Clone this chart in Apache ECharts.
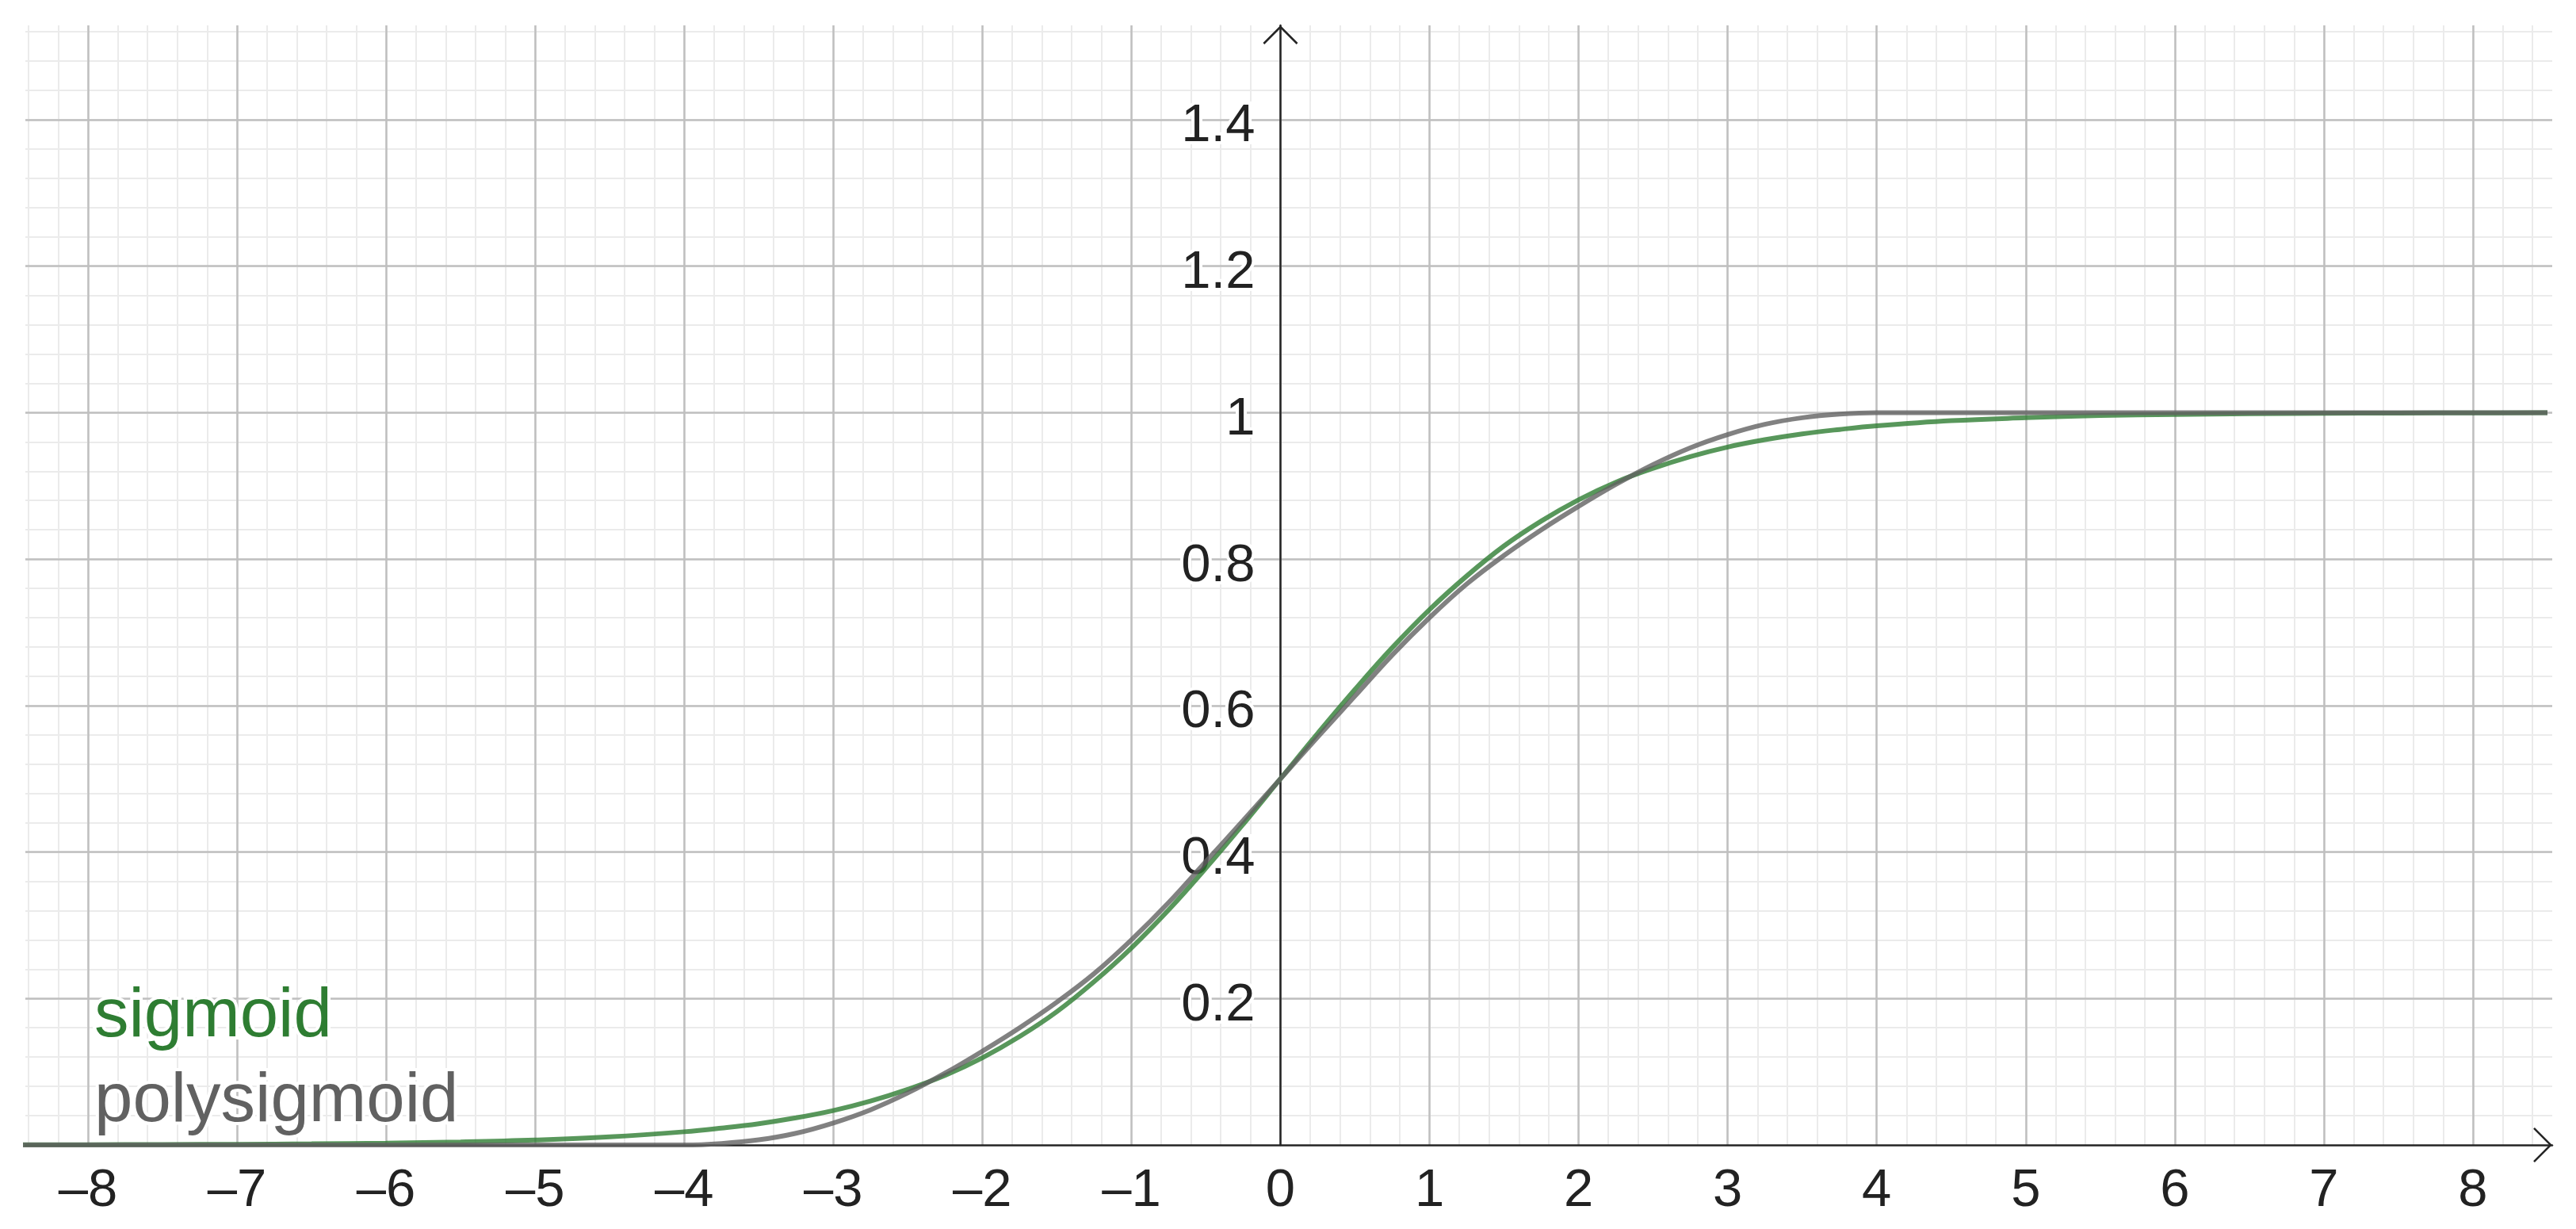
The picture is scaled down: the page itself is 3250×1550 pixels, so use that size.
<!DOCTYPE html>
<html>
<head>
<meta charset="utf-8">
<script src="https://cdn.jsdelivr.net/npm/echarts@6/dist/echarts.min.js"></script>
<style>
html,body{margin:0;padding:0;background:#ffffff;}
#chart{width:3250px;height:1550px;}
</style>
</head>
<body>
<div id="chart"></div>
<script>
// ---- data ----
const seriesNames = ['sigmoid', 'polysigmoid'];
const xValues = [-8.5, -8, -7.5, -7, -6.5, -6, -5.5, -5, -4.5, -4, -3.75, -3.5, -3.25, -3, -2.75, -2.5, -2.25, -2, -1.75, -1.5, -1.25, -1, -0.75, -0.5, -0.25, 0,
                 0.25, 0.5, 0.75, 1, 1.25, 1.5, 1.75, 2, 2.25, 2.5, 2.75, 3, 3.25, 3.5, 3.75, 4, 4.5, 5, 5.5, 6, 6.5, 7, 7.5, 8, 8.5];
const sigmoidValues = [0.0002, 0.0003, 0.0006, 0.0009, 0.0015, 0.0025, 0.0041, 0.0067, 0.011, 0.018, 0.023, 0.029, 0.037, 0.047, 0.060, 0.076, 0.095, 0.119, 0.148, 0.182, 0.223, 0.269, 0.321, 0.378, 0.438, 0.5,
                       0.562, 0.622, 0.679, 0.731, 0.777, 0.818, 0.852, 0.881, 0.905, 0.924, 0.940, 0.953, 0.963, 0.971, 0.977, 0.982, 0.989, 0.993, 0.996, 0.9975, 0.9985, 0.9991, 0.9994, 0.9997, 0.9998];
const polysigmoidValues = [0, 0, 0, 0, 0, 0, 0, 0, 0, 0, 0.002, 0.007, 0.016, 0.030, 0.048, 0.071, 0.098, 0.128, 0.160, 0.195, 0.234, 0.280, 0.331, 0.387, 0.443, 0.5,
                           0.557, 0.613, 0.669, 0.720, 0.766, 0.805, 0.840, 0.872, 0.902, 0.929, 0.952, 0.970, 0.984, 0.993, 0.998, 1, 1, 1, 1, 1, 1, 1, 1, 1, 1];
const xRange = [-8.42, 8.532];
const yRange = [0, 1.5288];
const xMajorStep = 1, xMinorStep = 0.2;
const yMajorStep = 0.2, yMinorStep = 0.04;

// ---- styling ----
const FONT = '"Liberation Sans", Arial, sans-serif';
const AXIS_COLOR = '#252525';
const MAJOR_GRID = '#bfbfbf';
const MINOR_GRID = '#ebebeb';
const GRID_LEFT = 32;
const arrowPath = 'path://M0,22 L22,0 L44,22 L42.2,23.8 L22,3.6 L1.8,23.8 Z';

function fmtX(v) {
  const r = Math.round(v);
  if (Math.abs(v - r) > 1e-6) return '';
  return r < 0 ? '\u2013' + Math.abs(r) : String(r);
}
function fmtY(v) {
  if (Math.abs(v) < 1e-9) return '';
  const r = Math.round(v * 10) / 10;
  if (Math.abs(v - r) > 1e-6) return '';
  return String(r);
}

const chart = echarts.init(document.getElementById('chart'), null, {renderer: 'canvas'});

const minorAxisCommon = {
  type: 'value',
  z: 0,
  axisLine: {show: false, onZero: false},
  axisTick: {show: false},
  axisLabel: {show: false},
  splitLine: {show: true, showMinLine: false, showMaxLine: false, lineStyle: {color: MINOR_GRID, width: 2}}
};
const labelStyle = {
  fontSize: 67,
  fontFamily: FONT,
  color: '#222222',
  textBorderColor: '#ffffff',
  textBorderWidth: 8
};

const option = {
  backgroundColor: '#ffffff',
  animation: false,
  grid: {left: GRID_LEFT, top: 32, right: 30, bottom: 106, containLabel: false, outerBoundsMode: 'none'},
  legend: {
    orient: 'vertical',
    left: 114,
    top: 1236,
    padding: 0,
    itemGap: 12,
    itemWidth: 0,
    itemHeight: 0,
    icon: 'none',
    selectedMode: false,
    textStyle: {fontSize: 87, fontFamily: FONT, textBorderColor: '#ffffff', textBorderWidth: 8},
    data: [
      {name: seriesNames[0], textStyle: {color: '#2E7D32'}},
      {name: seriesNames[1], textStyle: {color: '#616161'}}
    ]
  },
  xAxis: [
    Object.assign({}, minorAxisCommon, {
      position: 'top',
      min: xRange[0], max: xRange[1], minInterval: xMinorStep, maxInterval: xMinorStep, splitNumber: 80
    }),
    {
      type: 'value',
      position: 'bottom',
      z: 1,
      min: xRange[0], max: xRange[1],
      minInterval: xMajorStep, maxInterval: xMajorStep, splitNumber: 16,
      axisLine: {
        show: true, onZero: false,
        lineStyle: {color: AXIS_COLOR, width: 2.5},
        symbol: ['none', arrowPath],
        symbolSize: [44, 23.8],
        symbolOffset: [0, -12]
      },
      axisTick: {show: false},
      axisLabel: Object.assign({
        show: true, margin: 25, showMinLabel: false, showMaxLabel: false,
        formatter: fmtX
      }, labelStyle),
      splitLine: {show: true, showMinLine: false, showMaxLine: false, lineStyle: {color: MAJOR_GRID, width: 2.5}}
    }
  ],
  yAxis: [
    Object.assign({}, minorAxisCommon, {
      position: 'right',
      min: yRange[0], max: yRange[1], minInterval: yMinorStep, maxInterval: yMinorStep, splitNumber: 38
    }),
    {
      type: 'value',
      position: 'left',
      z: 1,
      offset: 0,
      min: yRange[0], max: yRange[1],
      minInterval: yMajorStep, maxInterval: yMajorStep, splitNumber: 7,
      axisLine: {
        show: true, onZero: false,
        lineStyle: {color: AXIS_COLOR, width: 2.5},
        symbol: ['none', arrowPath],
        symbolSize: [44, 23.8],
        symbolOffset: [0, -12]
      },
      axisTick: {show: false},
      axisLabel: Object.assign({
        show: true, margin: 32,
        verticalAlign: 'top',
        lineHeight: 18,
        formatter: fmtY
      }, labelStyle),
      splitLine: {show: true, showMinLine: false, showMaxLine: false, lineStyle: {color: MAJOR_GRID, width: 2.5}}
    }
  ],
  series: [
    {
      name: seriesNames[0],
      type: 'line',
      xAxisIndex: 1, yAxisIndex: 1,
      data: xValues.map((x, i) => [x, sigmoidValues[i]]),
      showSymbol: false,
      smooth: 0.4,
      lineStyle: {color: 'rgba(46,125,50,0.8)', width: 6},
      itemStyle: {color: '#2E7D32'},
      emphasis: {disabled: true},
      z: 3
    },
    {
      name: seriesNames[1],
      type: 'line',
      xAxisIndex: 1, yAxisIndex: 1,
      data: xValues.map((x, i) => [x, polysigmoidValues[i]]),
      showSymbol: false,
      smooth: 0.4,
      lineStyle: {color: 'rgba(97,97,97,0.8)', width: 6},
      itemStyle: {color: '#616161'},
      emphasis: {disabled: true},
      z: 4
    }
  ]
};
chart.setOption(option);
// place the y axis (line + labels) where x = 0, using the library's own x scale
const zeroPx = chart.convertToPixel({xAxisIndex: 1}, 0);
chart.setOption({yAxis: [{}, {offset: GRID_LEFT - zeroPx}]});
</script>
</body>
</html>
